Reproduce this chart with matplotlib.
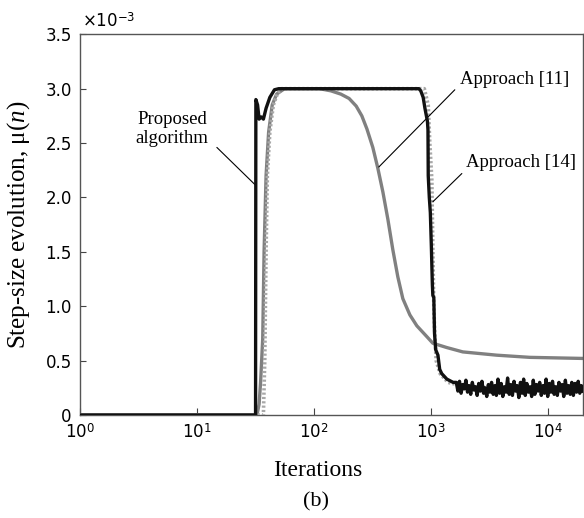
import numpy as np
import matplotlib
matplotlib.use("Agg")
import matplotlib.pyplot as plt
from matplotlib.ticker import FixedLocator, FixedFormatter

# step-size values in units of 1e-3
prop_n = [1, 31.7, 31.9, 33, 34, 35.5, 37, 39, 42, 46, 50, 790, 820, 860, 890, 935, 945,
          950, 970, 990, 1010, 1030, 1040, 1060, 1075, 1100, 1150, 1190, 1240, 1370, 1550]
prop_mu = [0, 0, 2.9, 2.85, 2.72, 2.74, 2.72, 2.82, 2.92, 2.99, 3.0, 3.0, 2.98, 2.92, 2.82, 2.7, 2.62,
           2.2, 2.0, 1.86, 1.55, 1.2, 1.1, 1.08, 0.75, 0.6, 0.55, 0.42, 0.38, 0.33, 0.3]
# noisy steady-state part of the proposed algorithm
prop_tail = [0.30, 0.22, 0.31, 0.20, 0.28, 0.24, 0.32, 0.21, 0.27, 0.19, 0.30, 0.23, 0.26, 0.18, 0.29, 0.22,
             0.31, 0.20, 0.25, 0.17, 0.28, 0.21, 0.30, 0.19, 0.27, 0.18, 0.33, 0.20, 0.29, 0.17, 0.26, 0.21,
             0.34, 0.19, 0.28, 0.18, 0.31, 0.22, 0.27, 0.16, 0.30, 0.20, 0.33, 0.18, 0.29, 0.21, 0.26, 0.17,
             0.32, 0.19, 0.28, 0.22, 0.30, 0.18, 0.27, 0.20, 0.33, 0.17, 0.29, 0.21, 0.31, 0.19, 0.26, 0.18,
             0.30, 0.22, 0.28, 0.17, 0.32, 0.20, 0.27, 0.19, 0.30, 0.18, 0.29, 0.21, 0.31, 0.20, 0.27, 0.22]

a11_n = [1, 32.6, 34, 35, 36.5, 37.5, 39, 41, 44, 48, 56, 112, 140, 170, 200, 230, 257, 284, 319, 352,
         389, 429, 473, 522, 576, 662, 759, 925, 1040, 1370, 1877, 3660, 7020, 20000]
a11_mu = [0, 0, 0.1, 0.3, 0.7, 1.5, 2.2, 2.6, 2.85, 2.95, 3.0, 3.0, 2.98, 2.95, 2.91, 2.84, 2.75, 2.63, 2.46,
          2.27, 2.05, 1.8, 1.52, 1.27, 1.07, 0.92, 0.82, 0.72, 0.66, 0.62, 0.58, 0.55, 0.53, 0.52]

a14_n = [1, 37, 38, 39, 40, 42, 45, 49, 53, 880, 950, 980, 1020, 1040, 1060, 1080, 1110, 1200, 1400,
         2000, 20000]
a14_mu = [0, 0, 0.5, 1.5, 2.2, 2.6, 2.85, 2.96, 3.0, 3.0, 2.85, 2.5, 2.16, 1.54, 1.0, 0.75, 0.5, 0.38, 0.3,
          0.26, 0.24]

yticks = [0, 0.5, 1.0, 1.5, 2.0, 2.5, 3.0, 3.5]
ylabels = ["0", "0.5", "1.0", "1.5", "2.0", "2.5", "3.0", "3.5"]

serif = "Liberation Serif"
sans = "DejaVu Sans"

plt.rcParams["mathtext.fontset"] = "custom"
plt.rcParams["mathtext.rm"] = sans
plt.rcParams["mathtext.it"] = serif + ":italic"

fig = plt.figure(figsize=(5.84, 5.18), dpi=100)
ax = fig.add_axes([80 / 584, 1 - 415 / 518, 503 / 584, (415 - 34.3) / 518])

tail_n = np.geomspace(1650, 20000, len(prop_tail))
pn = np.concatenate([prop_n, tail_n])
pm = np.concatenate([prop_mu, prop_tail]) * 1e-3

ax.plot(a11_n, np.array(a11_mu) * 1e-3, color="#808080", lw=2.4, zorder=2)
ax.plot(a14_n, np.array(a14_mu) * 1e-3, color="#a8a8a8", lw=2.6, ls=(0, (0.6, 0.6)), zorder=3)
ax.plot(pn, pm, color="#111111", lw=2.4, zorder=4)

ax.set_xscale("log")
ax.set_xlim(1, 2e4)
ax.set_ylim(0, 3.5e-3)
ax.xaxis.set_major_locator(FixedLocator([1, 10, 100, 1000, 10000]))
ax.xaxis.set_minor_locator(FixedLocator([]))
ax.set_xticklabels(["$10^{0}$", "$10^{1}$", "$10^{2}$", "$10^{3}$", "$10^{4}$"])
ax.yaxis.set_major_locator(FixedLocator([v * 1e-3 for v in yticks]))
ax.yaxis.set_major_formatter(FixedFormatter(ylabels))
ax.tick_params(axis="x", direction="in", length=5, pad=6, labelsize=12, color="#444444")
ax.tick_params(axis="y", direction="in", length=4, pad=6, labelsize=12, color="#444444")
for lab in ax.get_xticklabels() + ax.get_yticklabels():
    lab.set_fontfamily(sans)
for s in ax.spines.values():
    s.set_color("#555555")
    s.set_linewidth(1.0)

ax.text(0.003, 1.008, r"$\times$10$^{-3}$", transform=ax.transAxes, fontsize=12,
        family=sans, va="bottom", ha="left")

ax.set_ylabel(r"Step-size evolution, μ($\mathit{n}$)", fontsize=18, family=serif)
ax.yaxis.set_label_coords(-0.096, 0.5)
fig.text(318 / 584, 1 - 471 / 518, "Iterations", fontsize=17, family=serif, ha="center", va="center")
fig.text(316 / 584, 1 - 502 / 518, "(b)", fontsize=16, family=serif, ha="center", va="center")

# leader lines and labels
line = dict(arrowstyle="-", color="black", lw=0.8, shrinkA=0, shrinkB=0)
ax.annotate("", xy=(31.9, 2.11e-3), xytext=(14.8, 2.46e-3), arrowprops=line)
ax.annotate("", xy=(359, 2.28e-3), xytext=(1603, 2.99e-3), arrowprops=line)
ax.annotate("", xy=(1040, 1.96e-3), xytext=(1841, 2.22e-3), arrowprops=line)
ax.text(6.11, 2.63e-3, "Proposed\nalgorithm", fontsize=13.5, family=serif,
        ha="center", va="center", multialignment="center", linespacing=1.1)
ax.text(5224, 3.08e-3, "Approach [11]", fontsize=13.5, family=serif, ha="center", va="center")
ax.text(5875, 2.32e-3, "Approach [14]", fontsize=13.5, family=serif, ha="center", va="center")

fig.savefig("out.png", dpi=100)
